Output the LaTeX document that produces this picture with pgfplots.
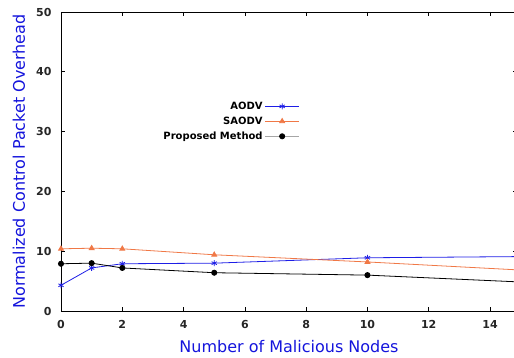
\documentclass[border=0pt]{standalone}
\usepackage{pgfplots}
\pgfplotsset{compat=1.18}
\usepackage{fontspec}
\setmainfont{DejaVu Sans}
\setsansfont{DejaVu Sans}
\definecolor{aodv}{RGB}{30,30,230}
\definecolor{saodv}{RGB}{240,120,70}
\definecolor{lab}{RGB}{20,20,220}
\begin{document}
\begin{tikzpicture}
\useasboundingbox (0pt,0pt) rectangle (514pt,358pt);
\begin{axis}[
  at={(61pt,47pt)}, anchor=south west,
  scale only axis, width=456pt, height=299pt,
  xmin=0, xmax=14.88, ymin=0, ymax=50,
  xtick={0,2,...,14}, ytick={0,10,...,50},
  tick align=inside, major tick length=4pt,
  tick style={black, line width=0.6pt},
  axis line style={black, line width=0.8pt},
  ticklabel style={font=\fontsize{11}{13}\selectfont\bfseries, text=black!85},
  /pgf/number format/assume math mode=true,
  xlabel={Number of Malicious Nodes},
  ylabel={Normalized Control Packet Overhead},
  label style={font=\fontsize{16}{19}\selectfont, text=lab},
  xlabel style={at={(axis description cs:0.5,0)}, anchor=center, yshift=-36pt},
  ylabel style={at={(axis description cs:0,0.5)}, anchor=center, yshift=42pt},
  xticklabel style={yshift=-6pt},
  yticklabel style={xshift=-6pt},
  clip=true,
  legend style={at={(rel axis cs:0.526,0.71)}, anchor=north east, draw=none, fill=none,
    font=\fontsize{10}{12}\selectfont\bfseries, row sep=2pt, inner sep=1pt},
  legend cell align=right,
  legend plot pos=right,
  legend image code/.code={\draw[mark repeat=2,mark phase=2] plot coordinates {(0pt,0pt) (17pt,0pt) (34pt,0pt)};},
]
\addplot[color=aodv, line width=0.8pt, mark=asterisk, mark size=3pt] coordinates {
  (0,4.3) (1,7.2) (2,7.9) (5,8.0) (10,8.9) (20,9.3)};
\addlegendentry{AODV}
\addplot[color=saodv, line width=0.8pt, mark=triangle*, mark size=2.8pt] coordinates {
  (0,10.4) (1,10.5) (2,10.4) (5,9.4) (10,8.2) (20,5.5)};
\addlegendentry{SAODV}
\addplot[color=black, line width=0.8pt, mark=*, mark size=2.6pt,
  legend image code/.code={\draw[gray!70, line width=1pt] (0pt,0pt) -- (34pt,0pt); \fill[black] (17pt,0pt) circle (2.6pt);}] coordinates {
  (0,7.9) (1,8.0) (2,7.2) (5,6.4) (10,6.0) (20,3.7)};
\addlegendentry{Proposed Method}
\end{axis}
\end{tikzpicture}
\end{document}
